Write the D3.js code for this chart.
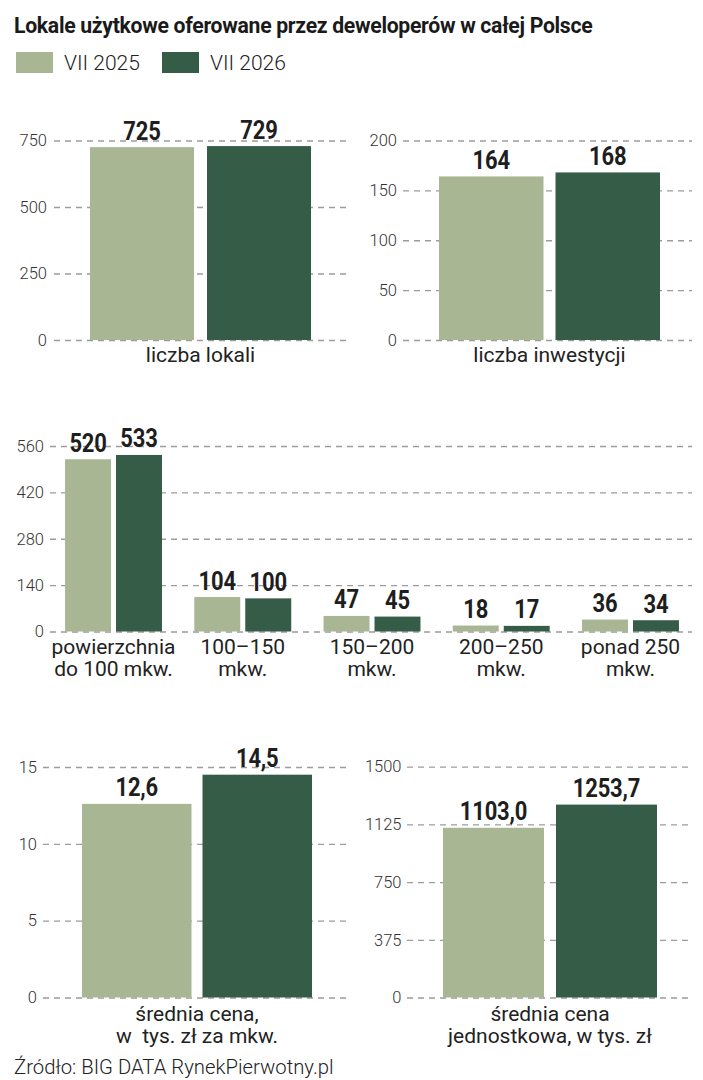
<!DOCTYPE html>
<html><head><meta charset="utf-8">
<script src="https://cdn.jsdelivr.net/npm/d3@7"></script>
<style>
html,body{margin:0;padding:0;background:#fff;}
svg{display:block;font-family:Roboto,"Noto Sans",sans-serif;}
</style></head>
<body><svg id="c" width="703" height="1080"></svg>
<script>
// ---- data ----
const titleText = "Lokale użytkowe oferowane przez deweloperów w całej Polsce";
const sourceText = "Źródło: BIG DATA RynekPierwotny.pl";
const series = ["VII 2025", "VII 2026"];
const colors = ["#a9b694", "#345c46"];

const lokaleCats = [["liczba lokali"]];
const lokale2025 = [725];
const lokale2026 = [729];
const lokaleTicks = [0, 250, 500, 750];

const inwCats = [["liczba inwestycji"]];
const inw2025 = [164];
const inw2026 = [168];
const inwTicks = [0, 50, 100, 150, 200];

const sizeCats = [["powierzchnia", "do 100 mkw."], ["100–150", "mkw."], ["150–200", "mkw."], ["200–250", "mkw."], ["ponad 250", "mkw."]];
const size2025 = [520, 104, 47, 18, 36];
const size2026 = [533, 100, 45, 17, 34];
const sizeTicks = [0, 140, 280, 420, 560];

const mkwCats = [["średnia cena,", "w  tys. zł za mkw."]];
const mkw2025 = [12.6];
const mkw2026 = [14.5];
const mkwTicks = [0, 5, 10, 15];

const jednCats = [["średnia cena", "jednostkowa, w tys. zł"]];
const jedn2025 = [1103.0];
const jedn2026 = [1253.7];
const jednTicks = [0, 375, 750, 1125, 1500];

// ---- drawing ----
const svg = d3.select("#c");
const pl = d3.formatLocale({decimal: ",", thousands: "", grouping: [3], currency: ["", ""]});
const fmtInt = pl.format("d");
const fmt1 = pl.format(".1f");

svg.append("text").attr("x", 14).attr("y", 33)
  .attr("font-size", 21.2).attr("font-weight", 700).attr("fill", "#1a1a1a")
  .attr("letter-spacing", -0.3)
  .text(titleText);

// legend
const leg = svg.append("g");
const legX = [16, 162];
series.forEach((s, i) => {
  leg.append("rect").attr("x", legX[i]).attr("y", 52).attr("width", 37).attr("height", 21).attr("fill", colors[i]);
  leg.append("text").attr("x", legX[i] + 48).attr("y", 69.5).attr("font-size", 21).attr("font-weight", 300)
    .attr("fill", "#222").text(s);
});

function panel(cfg) {
  const g = svg.append("g");
  const y = d3.scaleLinear().domain([0, d3.max(cfg.ticks)]).range([cfg.yBottom, cfg.yTop]);
  const axis = d3.axisLeft(y).tickValues(cfg.ticks).tickSize(-(cfg.gridX1 - cfg.gridX0))
    .tickPadding(cfg.gridX0 - cfg.labelX).tickFormat(d => d);
  const ag = g.append("g").attr("transform", `translate(${cfg.gridX0},0)`).call(axis);
  ag.select(".domain").remove();
  ag.selectAll(".tick line").attr("stroke", "#9c9c9c").attr("stroke-width", 1.3).attr("stroke-dasharray", "6,5");
  ag.selectAll(".tick text").attr("font-size", 16.5).attr("font-weight", 300).attr("fill", "#333")
    .attr("font-family", "Roboto, sans-serif");

  const n = cfg.cats.length;
  const x = d3.scaleBand().domain(d3.range(n)).range(cfg.xRange).paddingInner(cfg.pIn).paddingOuter(cfg.pOut);
  const B = x.bandwidth();
  const step = (B + cfg.gap) / 2;
  const xs = d3.scaleBand().domain(series).range([0, B]).paddingInner(cfg.gap / step).paddingOuter(0);

  const rows = d3.range(n).map(i => ({i, vals: [cfg.a[i], cfg.b[i]]}));
  const grp = g.selectAll(".grp").data(rows).join("g").attr("transform", d => `translate(${x(d.i)},0)`);
  const bars = grp.selectAll("g.bar").data(d => d.vals.map((v, k) => ({v, s: series[k], k}))).join("g").attr("class", "bar");
  bars.append("rect")
    .attr("x", d => xs(d.s)).attr("width", xs.bandwidth())
    .attr("y", d => y(d.v)).attr("height", d => y(0) - y(d.v))
    .attr("fill", d => colors[d.k]);
  bars.append("text")
    .attr("transform", d => `translate(${xs(d.s) + xs.bandwidth() / 2},${y(d.v) - 7.5}) scale(0.88,1)`)
    .attr("text-anchor", "middle").attr("font-size", 25).attr("font-weight", 700)
    .attr("letter-spacing", -0.2).attr("fill", "#1e1e1e")
    .text(d => cfg.fmt(d.v));

  const cl = g.selectAll(".cat").data(cfg.cats).join("text")
    .attr("x", (d, i) => x(i) + B / 2).attr("y", cfg.catY)
    .attr("text-anchor", "middle").attr("font-size", 21).attr("font-weight", 400).attr("fill", "#222")
    .style("white-space", "pre");
  cl.selectAll("tspan").data(d => d).join("tspan")
    .attr("x", function () { return this.parentNode.getAttribute("x"); })
    .attr("dy", (d, j) => j === 0 ? 0 : 21.5).text(d => d);
}

panel({cats: lokaleCats, a: lokale2025, b: lokale2026, ticks: lokaleTicks, fmt: fmtInt,
  yTop: 140.5, yBottom: 340, gridX0: 54, gridX1: 346, labelX: 47,
  xRange: [90, 311], pIn: 0, pOut: 0, gap: 13, catY: 362});

panel({cats: inwCats, a: inw2025, b: inw2026, ticks: inwTicks, fmt: fmtInt,
  yTop: 140.5, yBottom: 340, gridX0: 403, gridX1: 692, labelX: 397,
  xRange: [439, 660], pIn: 0, pOut: 0, gap: 12, catY: 362});

panel({cats: sizeCats, a: size2025, b: size2026, ticks: sizeTicks, fmt: fmtInt,
  yTop: 446, yBottom: 631.5, gridX0: 50, gridX1: 692, labelX: 44,
  xRange: [48.9, 695.1], pIn: 0.25, pOut: 0.125, gap: 5, catY: 654});

panel({cats: mkwCats, a: mkw2025, b: mkw2026, ticks: mkwTicks, fmt: fmt1,
  yTop: 767, yBottom: 997.5, gridX0: 43, gridX1: 350, labelX: 37,
  xRange: [82, 312], pIn: 0, pOut: 0, gap: 11, catY: 1021});

panel({cats: jednCats, a: jedn2025, b: jedn2026, ticks: jednTicks, fmt: fmt1,
  yTop: 766.7, yBottom: 997.5, gridX0: 407, gridX1: 692, labelX: 401.5,
  xRange: [443, 657], pIn: 0, pOut: 0, gap: 12, catY: 1021});

svg.append("text").attr("x", 14).attr("y", 1074).attr("font-size", 20.3).attr("font-weight", 300)
  .attr("fill", "#222").text(sourceText);
</script></body></html>
